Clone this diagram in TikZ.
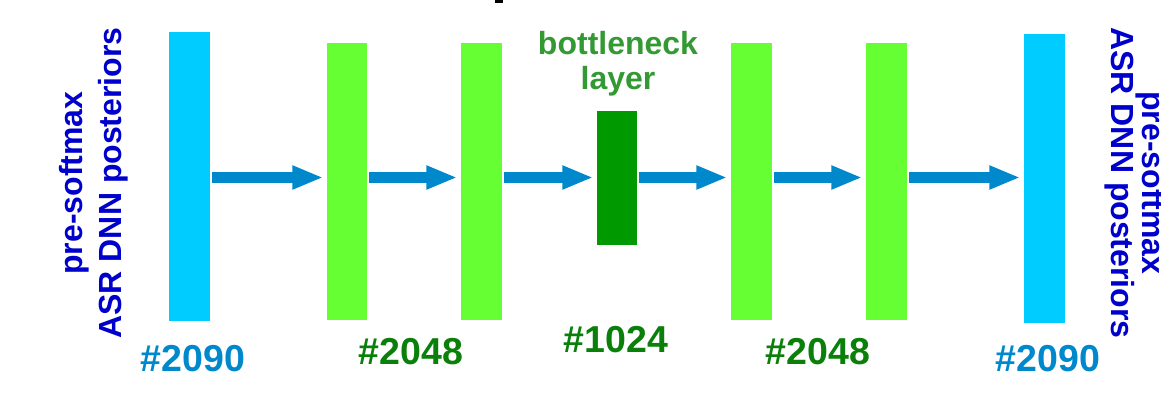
\documentclass[tikz,border=0pt]{standalone}
\usepackage{fontspec}
\setmainfont{Liberation Sans}
\usetikzlibrary{arrows.meta}
\definecolor{cyanbar}{HTML}{00CCFF}
\definecolor{lgreen}{HTML}{66FF33}
\definecolor{dgreen}{HTML}{009900}
\definecolor{arrblue}{HTML}{0088CC}
\definecolor{numgreen}{HTML}{0A800A}
\definecolor{bngreen}{HTML}{339933}
\definecolor{sideblue}{HTML}{0000CC}
\begin{document}
\begin{tikzpicture}[x=1pt,y=-1pt,
  bar/.style={rectangle, draw=none, inner sep=0pt, minimum width=41pt},
  arr/.style={draw=arrblue, line width=11pt, -{Triangle[length=31pt,width=22pt]}, shorten <=2pt, shorten >=3.5pt},
  numlbl/.style={anchor=base, inner sep=0pt, font=\fontsize{37.5}{44}\selectfont\bfseries},
  sidelbl/.style={anchor=base, inner sep=0pt, text=sideblue, font=\fontsize{32}{38}\selectfont\bfseries},
  bnlbl/.style={anchor=base, inner sep=0pt, text=bngreen, font=\fontsize{32}{36}\selectfont\bfseries}]
\useasboundingbox (0,0) rectangle (1161,401);
\clip (0,0) rectangle (1161,401);
% cut-off fragment at top
\fill[black] (495,0) rectangle (503,3);
% layers
\node[bar, fill=cyanbar, minimum height=289pt] (in) at (189.5,176.5) {};
\node[bar, fill=lgreen, minimum width=40pt, minimum height=277pt] (h1) at (347,181.5) {};
\node[bar, fill=lgreen, minimum height=277pt] (h2) at (481.5,181.5) {};
\node[bar, fill=dgreen, minimum width=40pt, minimum height=134pt] (bn) at (617,178) {};
\node[bar, fill=lgreen, minimum height=277pt] (h3) at (751.5,181.5) {};
\node[bar, fill=lgreen, minimum height=277pt] (h4) at (886.5,181.5) {};
\node[bar, fill=cyanbar, minimum height=289pt] (out) at (1044.5,178.5) {};
% arrows
\draw[arr] (in.east |- 0,177.5) -- (h1.west |- 0,177.5);
\draw[arr] (h1.east |- 0,177.5) -- (h2.west |- 0,177.5);
\draw[arr] (h2.east |- 0,177.5) -- (bn.west |- 0,177.5);
\draw[arr] (bn.east |- 0,177.5) -- (h3.west |- 0,177.5);
\draw[arr] (h3.east |- 0,177.5) -- (h4.west |- 0,177.5);
\draw[arr] (h4.east |- 0,177.5) -- (out.west |- 0,177.5);
% size labels
\node[numlbl, text=arrblue] (lin) at (193,371) {\#2090};
\node[numlbl, text=numgreen] (lh1) at (411,364) {\#2048};
\node[numlbl, text=numgreen] (lbn) at (616,352) {\#1024};
\node[numlbl, text=numgreen] (lh4) at (818,364) {\#2048};
\node[numlbl, text=arrblue] (lout) at (1048,371) {\#2090};
% bottleneck label
\node[bnlbl] (bt1) at (618,55) {bottleneck};
\node[bnlbl] (bt2) at (618,90) {layer};
% side labels
\node[sidelbl, rotate=90] (sl1) at (82,183) {pre-softmax};
\node[sidelbl, rotate=90] (sl2) at (121,183) {ASR DNN posteriors};
\node[sidelbl, rotate=-90] (sr1) at (1142,183) {pre-softmax};
\node[sidelbl, rotate=-90] (sr2) at (1111,183) {ASR DNN posteriors};
\end{tikzpicture}
\end{document}
